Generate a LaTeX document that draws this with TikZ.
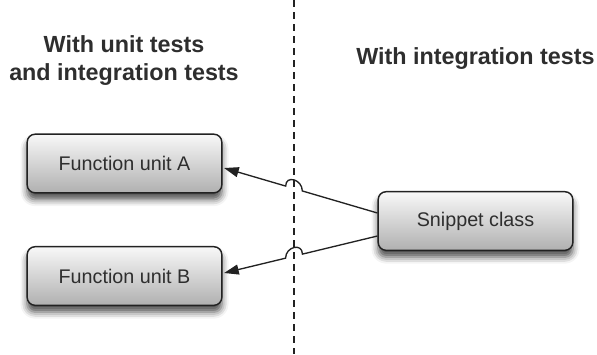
\documentclass[tikz,border=0pt]{standalone}
\usepackage{fontspec}
\setmainfont{Liberation Sans}
\usetikzlibrary{arrows.meta,calc,shadows.blur}
\definecolor{edgec}{HTML}{222222}
\definecolor{textc}{HTML}{2E2E2E}
\definecolor{topc}{HTML}{F8F8F8}
\definecolor{botc}{HTML}{B0B0B0}
\tikzset{
  >={Triangle[length=11pt,width=7.5pt]},
  unit/.style={draw=edgec,line width=1.1pt,rounded corners=6pt,top color=topc,bottom color=botc,
    minimum width=146pt,minimum height=44pt,inner sep=0pt,text=textc,font=\fontsize{14.8}{18}\selectfont,
    blur shadow={shadow xshift=0pt,shadow yshift=-5pt,shadow blur radius=5pt,shadow opacity=70}},
  head/.style={font=\bfseries\fontsize{17.5}{21}\selectfont,text=textc,align=center},
  divider/.style={draw=edgec,line width=0.8pt,dash pattern=on 5.5pt off 3.5pt},
  link/.style={draw=edgec,line width=1pt},
}
% connector that hops over the divider
\newcommand{\hoplink}[3]{%
  \coordinate (#3) at (intersection of #1--#2 and divtop--divbot);
  \draw[link,->] (#1) -- ($(#3)!6.5pt!(#1)$) to[out=90,in=90,looseness=1.7] ($(#3)!6.5pt!(#2)$) -- (#2);}

\begin{document}
\begin{tikzpicture}[x=0.75pt,y=-0.75pt]
  \useasboundingbox (0,0) rectangle (597,354);
  \coordinate (divtop) at (294,0);
  \coordinate (divbot) at (294,354);
  \draw[divider] (divtop) -- (divbot);
  \node[head] (lhead) at (124,61) {With unit tests\\and integration tests};
  \node[head] (rhead) at (475.5,59) {With integration tests};
  \node[unit] (fa) at (124.5,163.5) {Function unit A};
  \node[unit] (fb) at (124.5,276) {Function unit B};
  \node[unit] (snip) at (475.5,221) {Snippet class};
  \coordinate (sa) at ($(snip.west)+(0,-8)$);
  \coordinate (sb) at ($(snip.west)+(0,15)$);
  \coordinate (ta) at ($(fa.east)+(1.5,4.5)$);
  \coordinate (tb) at ($(fb.east)+(1.5,-3)$);
  \hoplink{sa}{ta}{xa}
  \hoplink{sb}{tb}{xb}
\end{tikzpicture}
\end{document}
